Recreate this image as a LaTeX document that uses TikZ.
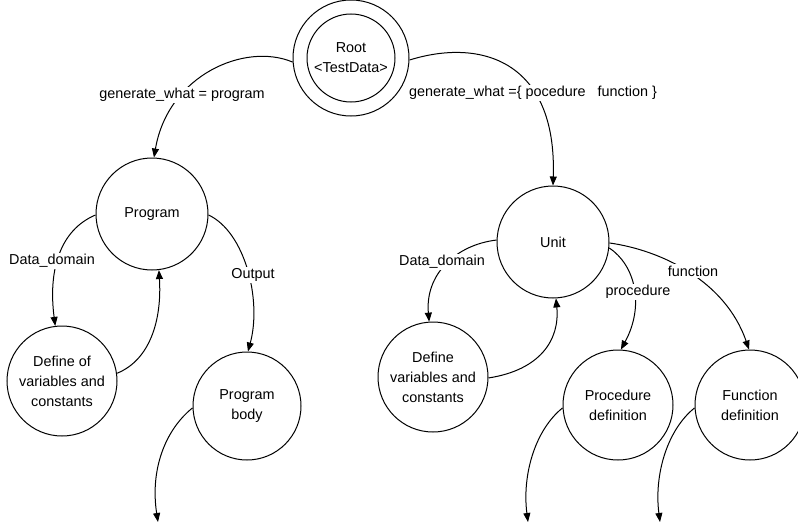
\documentclass[tikz,border=0pt]{standalone}
\usepackage{fontspec}
\setmainfont{Liberation Sans}
\usetikzlibrary{arrows.meta}
\begin{document}
\begin{tikzpicture}[x=1pt,y=-1pt,
  every node/.style={font=\fontsize{14.4}{20}\selectfont},
  state/.style={draw,circle,line width=1pt,minimum size=110pt,inner sep=0pt,align=center},
  lbl/.style={fill=white,inner sep=1.5pt},
  edge/.style={line width=1pt,-{Triangle[length=9pt,width=7pt]}}]
\useasboundingbox (0,0) rectangle (798,527);
% nodes
\node[state,minimum size=116pt] (root) at (351,58) {};
\node[state,minimum size=88pt] (rootin) at (351,58) {Root\\\textless TestData\textgreater};
\node[state,minimum size=112pt] (prog) at (152,214) {Program};
\node[state] (def1) at (62,381) {Define of\\variables and\\constants};
\node[state,minimum size=108pt] (pbody) at (247,406) {Program\\body};
\node[state,minimum size=112pt] (unit) at (553,242) {Unit};
\node[state] (def2) at (433,377) {Define\\variables and\\constants};
\node[state] (proc) at (618,405) {Procedure\\definition};
\node[state] (func) at (750,405) {Function\\definition};
\coordinate (e1) at (158,522);
\coordinate (e2) at (528,522);
\coordinate (e3) at (660,522);
% edges
\draw[edge] (root.184) .. controls (245,42) and (168,75) .. (prog.88);
\draw[edge] (root.-2) .. controls (480,38) and (557,60) .. (unit.north);
\draw[edge] (prog.181) .. controls (60,230) and (48,270) .. (def1.97);
\draw[edge] (def1.8) .. controls (150,360) and (162,320) .. (prog.-83);
\draw[edge] (prog.-1) .. controls (245,232) and (262,300) .. (pbody.89);
\draw[edge] (pbody.182) .. controls (165,430) and (150,470) .. (e1);
\draw[edge] (unit.178) .. controls (455,245) and (425,275) .. (def2.94);
\draw[edge] (def2.-1) .. controls (540,370) and (560,340) .. (unit.-87);
\draw[edge] (unit.-6) .. controls (635,265) and (645,305) .. (proc.87);
\draw[edge] (unit.-1) .. controls (660,250) and (725,280) .. (func.91);
\draw[edge] (proc.183) .. controls (535,430) and (522,475) .. (e2);
\draw[edge] (func.183) .. controls (667,430) and (654,475) .. (e3);
% labels
\node[lbl] (l1) at (182,95) {generate\_what = program};
\node[lbl] (l2) at (533,93) {generate\_what =\{ pocedure\ \ \ function \}};
\node[lbl] (l3) at (52,261) {Data\_domain};
\node[lbl] (l4) at (253,275) {Output};
\node[lbl] (l5) at (442,262) {Data\_domain};
\node[lbl] (l6) at (638,292) {procedure};
\node[lbl] (l7) at (693,271) {function};
\end{tikzpicture}
\end{document}
